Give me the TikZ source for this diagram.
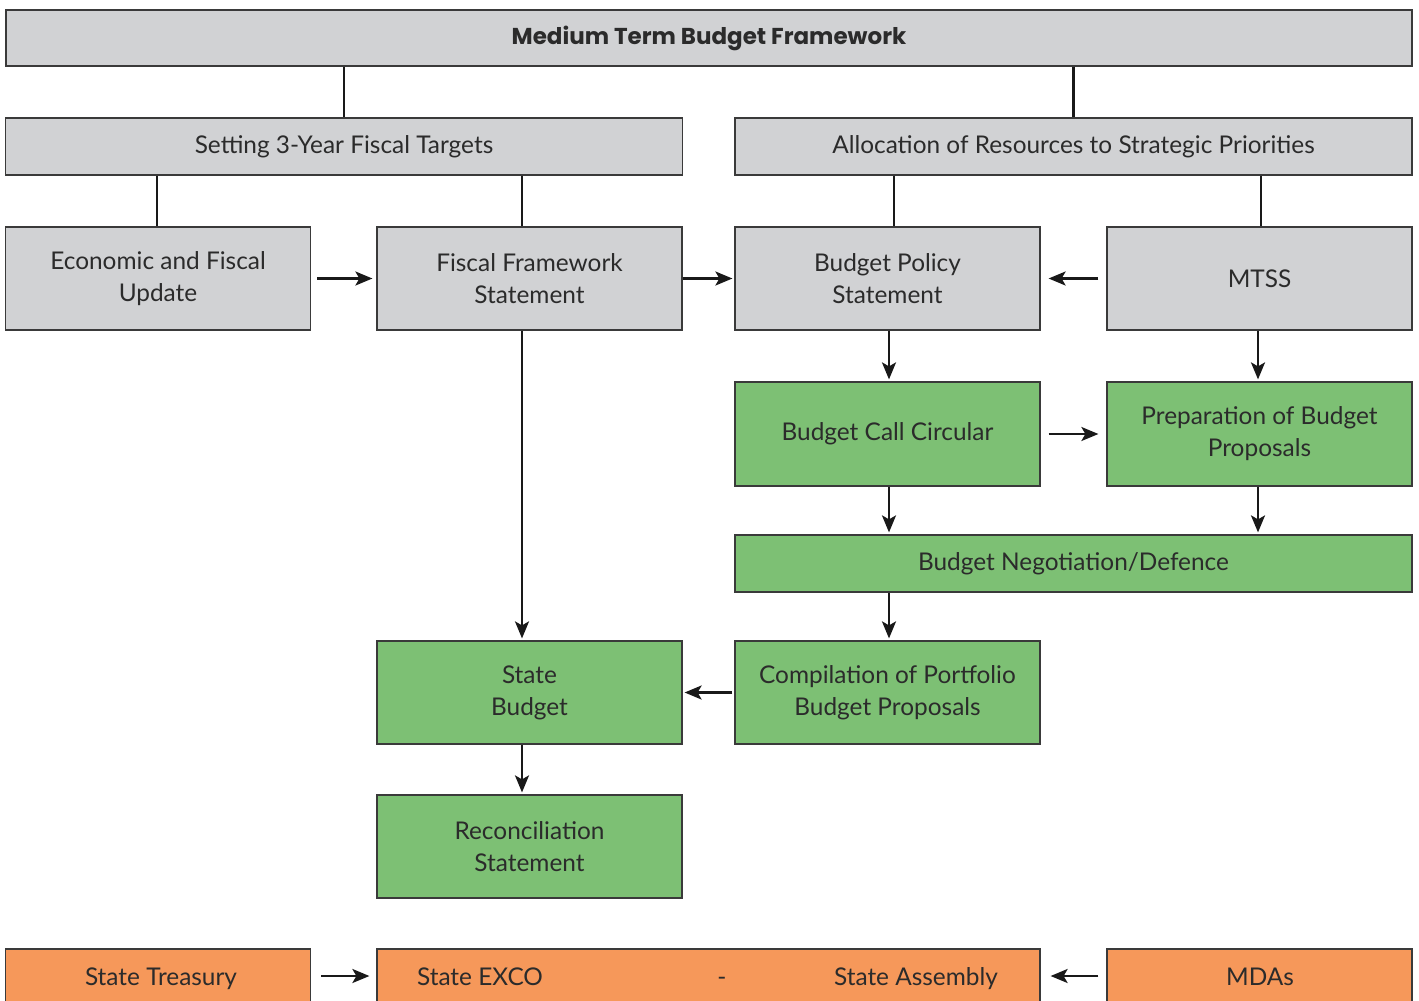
\documentclass[tikz,border=0pt]{standalone}
\usepackage{fontspec}
\setmainfont{Lato}
\newfontfamily\headfont{Poppins}
\usetikzlibrary{arrows.meta}
\definecolor{boxgray}{HTML}{D1D2D4}
\definecolor{boxgreen}{HTML}{7DC074}
\definecolor{boxorange}{HTML}{F6985A}
\definecolor{ink}{HTML}{2B2B2B}
\definecolor{edge}{HTML}{3A3A3A}
\begin{document}
\begin{tikzpicture}[x=0.5pt,y=-0.5pt,
  lbl/.style={text=ink,font=\fontsize{12.2}{16}\selectfont},
  baselbl/.style={lbl,anchor=base,inner sep=0pt},
  box/.style={lbl,draw=edge,line width=0.6pt,inner sep=0pt,align=center,
    minimum width=152.5pt,minimum height=51.5pt},
  wide/.style={minimum width=338.5pt,minimum height=28.5pt},
  graybox/.style={box,fill=boxgray},
  greenbox/.style={box,fill=boxgreen},
  orangebox/.style={box,fill=boxorange,minimum height=27pt},
  link/.style={draw=black!90,line width=1.2pt},
  flow/.style={link,-{Stealth[length=8.5pt,width=7pt,inset=2pt]}}]
\useasboundingbox (0,0) rectangle (1419,1001);

% top level
\node[graybox,minimum width=703pt,minimum height=28pt] (mtbf) at (709,38)
  {\headfont\bfseries\fontsize{11.5}{14}\selectfont Medium Term Budget Framework};

% second level
\node[graybox,wide] (targets) at (344,146.5) {Setting 3-Year Fiscal Targets};
\node[graybox,wide] (alloc) at (1073.5,146.5) {Allocation of Resources to Strategic Priorities};

% third level
\node[graybox] (efu) at (158,278.5) {Economic and Fiscal\\Update};
\node[graybox] (ffs) at (529.5,278.5) {Fiscal Framework\\Statement};
\node[graybox] (bps) at (887.5,278.5) {Budget Policy\\Statement};
\node[graybox] (mtss) at (1259.5,278.5) {MTSS};

% budget preparation
\node[greenbox,minimum height=52pt] (bcc) at (887.5,434) {Budget Call Circular};
\node[greenbox,minimum height=52pt] (prep) at (1259.5,434) {Preparation of Budget\\Proposals};
\node[greenbox,wide] (nego) at (1073.5,563.5) {Budget Negotiation/Defence};
\node[greenbox] (sbud) at (529.5,692.5) {State\\Budget};
\node[greenbox] (comp) at (887.5,692.5) {Compilation of Portfolio\\Budget Proposals};
\node[greenbox] (recon) at (529.5,846.5) {Reconciliation\\Statement};

% actors
\node[orangebox] (treas) at (158,976) {};
\node[baselbl] (treaslbl) at (161,985) {State Treasury};
\node[orangebox,minimum width=331.5pt] (exco) at (708.5,976) {};
\node[baselbl] (excolbl) at (480,985) {State EXCO};
\node[baselbl] (dash) at (722,985) {-};
\node[baselbl] (assembly) at (916,985) {State Assembly};
\node[orangebox] (mdas) at (1259.5,976) {};
\node[baselbl] (mdaslbl) at (1260,985) {MDAs};

% vertical guide positions
\coordinate (xa) at (157,0);
\coordinate (xb) at (522,0);
\coordinate (xc) at (894,0);
\coordinate (xd) at (1261,0);
\coordinate (xe) at (889,0);
\coordinate (xf) at (1258,0);

% hierarchy lines
\draw[link] (mtbf.south -| targets.north) -- (targets.north);
\draw[link] (mtbf.south -| alloc.north) -- (alloc.north);
\draw[link] (targets.south -| xa) -- (efu.north -| xa);
\draw[link] (targets.south -| xb) -- (ffs.north -| xb);
\draw[link] (alloc.south -| xc) -- (bps.north -| xc);
\draw[link] (alloc.south -| xd) -- (mtss.north -| xd);

% horizontal flows
\draw[flow,shorten <=3pt,shorten >=2pt] (efu) -- (ffs);
\draw[flow,shorten >=1pt] (ffs) -- (bps);
\draw[flow,shorten <=4pt,shorten >=4pt] (mtss) -- (bps);
\draw[flow,shorten <=4pt,shorten >=4pt] (bcc) -- (prep);
\draw[flow,shorten <=1pt,shorten >=1pt] (comp) -- (sbud);
\draw[flow,shorten <=5pt,shorten >=3.5pt] (treas) -- (exco);
\draw[flow,shorten <=4pt,shorten >=5pt] (mdas) -- (exco);

% vertical flows
\draw[flow,shorten >=1pt] (bps.south -| xe) -- (bcc.north -| xe);
\draw[flow,shorten >=1pt] (mtss.south -| xf) -- (prep.north -| xf);
\draw[flow,shorten >=1pt] (bcc.south -| xe) -- (nego.north -| xe);
\draw[flow,shorten >=1pt] (prep.south -| xf) -- (nego.north -| xf);
\draw[flow,shorten >=1pt] (nego.south -| xe) -- (comp.north -| xe);
\draw[flow,shorten >=1pt] (ffs.south -| xb) -- (sbud.north -| xb);
\draw[flow,shorten >=1pt] (sbud.south -| xb) -- (recon.north -| xb);
\end{tikzpicture}
\end{document}
